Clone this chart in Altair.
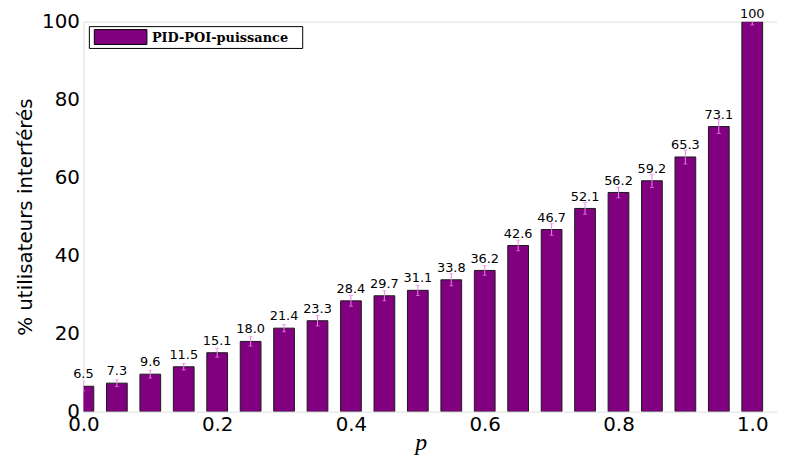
import altair as alt
import pandas as pd

p_values = [0.0, 0.05, 0.1, 0.15, 0.2, 0.25, 0.3, 0.35, 0.4, 0.45, 0.5,
            0.55, 0.6, 0.65, 0.7, 0.75, 0.8, 0.85, 0.9, 0.95, 1.0]
pct_values = [6.5, 7.3, 9.6, 11.5, 15.1, 18.0, 21.4, 23.3, 28.4, 29.7, 31.1,
              33.8, 36.2, 42.6, 46.7, 52.1, 56.2, 59.2, 65.3, 73.1, 100.0]
err_values = [1.15, 0.85, 1.0, 0.85, 1.15, 1.2, 0.95, 1.35, 1.35, 1.3, 1.3,
              1.55, 1.2, 1.35, 1.5, 1.5, 1.35, 1.7, 1.8, 1.8, 0.85]
value_labels = ["6.5", "7.3", "9.6", "11.5", "15.1", "18.0", "21.4", "23.3",
                "28.4", "29.7", "31.1", "33.8", "36.2", "42.6", "46.7", "52.1",
                "56.2", "59.2", "65.3", "73.1", "100"]
x_ticks = [0.0, 0.2, 0.4, 0.6, 0.8, 1.0]
y_ticks = [0, 20, 40, 60, 80, 100]
series_name = "PID-POI-puissance"

BAR_W = 0.031
PURPLE = "#800080"
VIOLET = "#ee82ee"

df = pd.DataFrame({"p": p_values, "v": pct_values, "e": err_values, "lab": value_labels})
legend_df = pd.DataFrame({"name": [series_name]})

x_scale = alt.Scale(domain=[0, 1.037], nice=False, zero=False)
y_scale = alt.Scale(domain=[0, 100], nice=False)

x_axis = alt.Axis(values=x_ticks, format=".1f", grid=False, ticks=False, tickSize=0,
                  domain=False, labelFontSize=20, labelFont="DejaVu Sans",
                  labelPadding=3, labelColor="black", labelFlush=False,
                  title="p", titleFont="Liberation Serif", titleFontStyle="italic",
                  titleFontWeight="normal", titleFontSize=24, titleColor="black",
                  titleBaseline="alphabetic", titleY=38.5, titleX=340)
y_axis = alt.Axis(values=y_ticks, grid=False, ticks=False, tickSize=0, domain=False,
                  labelFontSize=20, labelFont="DejaVu Sans", labelPadding=4,
                  labelColor="black", labelFlush=False,
                  title="% utilisateurs interférés", titleFont="DejaVu Sans",
                  titleFontSize=20, titleFontWeight="normal", titleColor="black",
                  titlePadding=6)

base = alt.Chart(df).transform_calculate(
    x0=f"datum.p - {BAR_W / 2}",
    x1=f"datum.p + {BAR_W / 2}",
    lo="datum.v - datum.e",
    hi="datum.v + datum.e",
    ly="min(datum.v, 98.8)",
)

bars = base.mark_bar(color=PURPLE, stroke="#1a1a1a", strokeWidth=1, clip=True).encode(
    x=alt.X("x0:Q", scale=x_scale, axis=x_axis),
    x2="x1:Q",
    y=alt.Y("v:Q", scale=y_scale, axis=y_axis),
    y2=alt.datum(0),
)

err = base.mark_rule(color=VIOLET, strokeWidth=1, clip=True).encode(
    x=alt.X("p:Q", scale=x_scale), y=alt.Y("lo:Q", scale=y_scale), y2="hi:Q"
)
cap_lo = base.mark_tick(color=VIOLET, orient="horizontal", size=4, thickness=1, clip=True).encode(
    x=alt.X("p:Q", scale=x_scale), y=alt.Y("lo:Q", scale=y_scale)
)
cap_hi = base.mark_tick(color=VIOLET, orient="horizontal", size=4, thickness=1, clip=True).encode(
    x=alt.X("p:Q", scale=x_scale), y=alt.Y("hi:Q", scale=y_scale)
)

labels = base.mark_text(font="DejaVu Sans", fontSize=13, color="black",
                        baseline="alphabetic", align="center", dy=-8).encode(
    x=alt.X("p:Q", scale=x_scale), y=alt.Y("ly:Q", scale=y_scale), text="lab:N"
)

leg_box = alt.Chart(legend_df).mark_rect(fill="white", stroke="black", strokeWidth=1).encode(
    x=alt.value(6), x2=alt.value(221), y=alt.value(5), y2=alt.value(27)
)
leg_patch = alt.Chart(legend_df).mark_rect(fill=PURPLE, stroke="black", strokeWidth=1).encode(
    x=alt.value(11), x2=alt.value(64), y=alt.value(8), y2=alt.value(23)
)
leg_text = alt.Chart(legend_df).mark_text(font="DejaVu Serif", fontWeight="bold", fontSize=13,
                                          align="left", baseline="middle", color="black").encode(
    x=alt.value(69), y=alt.value(16.5), text="name:N"
)

chart = alt.layer(bars, err, cap_lo, cap_hi, labels, leg_box, leg_patch, leg_text).properties(
    width=699, height=393,
    autosize=alt.AutoSizeParams(type="none"),
    padding={"left": 76, "top": 12, "right": 0, "bottom": 47},
).configure_view(stroke="#707070", strokeWidth=1.5).configure(background="white")

chart.save("out.html", embed_options={"renderer": "svg", "actions": False})
